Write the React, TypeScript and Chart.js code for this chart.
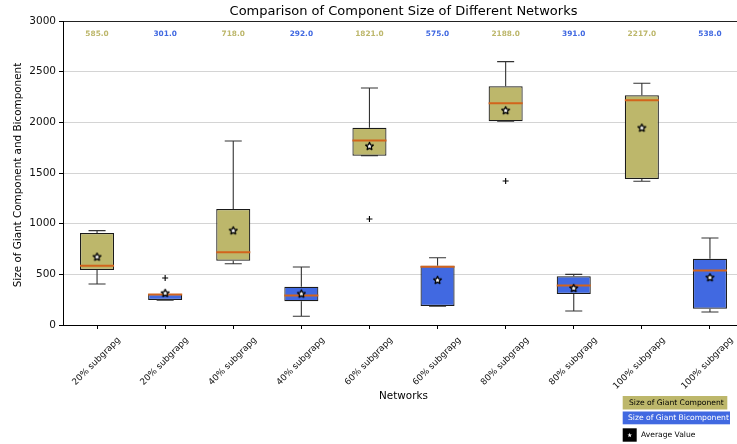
import React, { useEffect, useRef } from "react";
import { Chart, registerables } from "chart.js";

Chart.register(...registerables);

const categories = [
  "20% subgrapg", "20% subgrapg", "40% subgrapg", "40% subgrapg", "60% subgrapg",
  "60% subgrapg", "80% subgrapg", "80% subgrapg", "100% subgrapg", "100% subgrapg",
];
// 'giant' = Size of Giant Component, 'bi' = Size of Giant Bicomponent
const groups = ["giant", "bi", "giant", "bi", "giant", "bi", "giant", "bi", "giant", "bi"];
const q1 = [543, 247, 635, 234, 1671, 187, 2010, 306, 1441, 161];
const q3 = [908, 306, 1145, 378, 1947, 585, 2355, 480, 2267, 654];
const medians = [585, 301, 718, 292, 1821, 575, 2188, 391, 2217, 538];
const means = [671, 313, 930, 306, 1763, 441, 2115, 362, 1944, 467];
const whiskerLow = [405, 245, 605, 86, 1671, 185, 2010, 138, 1418, 128];
const whiskerHigh = [931, 301, 1816, 572, 2339, 664, 2599, 500, 2385, 859];
const outliers = [[], [464], [], [], [1046], [], [1421], [], [], []];
const yTicks = [0, 500, 1000, 1500, 2000, 2500, 3000];
const legendLabels = ["Size of Giant Component", "Size of Giant Bicomponent", "Average Value"];

const TITLE = "Comparison of Component Size of Different Networks";
const X_TITLE = "Networks";
const Y_TITLE = "Size of Giant Component and Bicomponent";

const COLORS: Record<string, string> = { giant: "#BDB76B", bi: "#4169E1" };
const FONT = '"DejaVu Sans", sans-serif';

function makeStar(size: number, outer: number, inner: number, fill: string, stroke: string | null, lw: number) {
  const c = document.createElement("canvas");
  c.width = size;
  c.height = size;
  const g = c.getContext("2d")!;
  drawStar(g, size / 2, size / 2, outer, inner, fill, stroke, lw);
  return c;
}

function drawStar(g: CanvasRenderingContext2D, cx: number, cy: number, outer: number, inner: number, fill: string, stroke: string | null, lw: number) {
  g.beginPath();
  for (let k = 0; k < 10; k++) {
    const r = k % 2 === 0 ? outer : inner;
    const a = -Math.PI / 2 + (k * Math.PI) / 5;
    const px = cx + r * Math.cos(a);
    const py = cy + r * Math.sin(a);
    if (k === 0) g.moveTo(px, py);
    else g.lineTo(px, py);
  }
  g.closePath();
  g.fillStyle = fill;
  g.fill();
  if (stroke) {
    g.strokeStyle = stroke;
    g.lineWidth = lw;
    g.lineJoin = "round";
    g.stroke();
  }
}

export default function App() {
  const ref = useRef<HTMLCanvasElement | null>(null);

  useEffect(() => {
    document.body.style.margin = "0";
    const canvas = ref.current!;
    const star = makeStar(11, 4, 1.9, "#ffffff", "#000000", 1.3);

    const gap = (i: number) => ({ x: i, y: NaN });
    const whiskerData: any[] = [];
    categories.forEach((_, i) => {
      whiskerData.push({ x: i, y: q3[i] }, { x: i, y: whiskerHigh[i] }, gap(i));
      whiskerData.push({ x: i, y: q1[i] }, { x: i, y: whiskerLow[i] }, gap(i));
      whiskerData.push({ x: i - 0.125, y: whiskerHigh[i] }, { x: i + 0.125, y: whiskerHigh[i] }, gap(i));
      whiskerData.push({ x: i - 0.125, y: whiskerLow[i] }, { x: i + 0.125, y: whiskerLow[i] }, gap(i));
    });
    const medianData: any[] = [];
    medians.forEach((m, i) => {
      medianData.push({ x: i - 0.25, y: m }, { x: i + 0.25, y: m }, gap(i));
    });
    const meanData = means.map((m, i) => ({ x: i, y: m }));
    const outlierData: any[] = [];
    outliers.forEach((arr, i) => arr.forEach((v) => outlierData.push({ x: i, y: v })));

    const overlay = {
      id: "overlay",
      afterDraw(chart: any) {
        const { ctx, chartArea, scales } = chart;
        const xl = scales.xl;
        const cx = (chartArea.left + chartArea.right) / 2;
        ctx.save();
        ctx.textAlign = "center";
        ctx.textBaseline = "middle";
        ctx.font = `bold 7.4px ${FONT}`;
        medians.forEach((m, i) => {
          ctx.fillStyle = COLORS[groups[i]];
          ctx.fillText(m.toFixed(1), xl.getPixelForValue(i), chartArea.top + 13);
        });
        ctx.fillStyle = "#000";
        ctx.font = `13px ${FONT}`;
        ctx.fillText(TITLE, cx, 11.5);
        ctx.font = `10.4px ${FONT}`;
        ctx.fillText(X_TITLE, cx, 396);
        ctx.save();
        ctx.translate(18, 175);
        ctx.rotate(-Math.PI / 2);
        ctx.fillText(Y_TITLE, 0, 0);
        ctx.restore();

        // legend
        ctx.textAlign = "left";
        ctx.font = `7.6px ${FONT}`;
        ctx.fillStyle = COLORS.giant;
        ctx.fillRect(622.7, 396, 104.6, 13.5);
        ctx.fillStyle = "#000";
        ctx.fillText(legendLabels[0], 629, 402.9);
        ctx.fillStyle = COLORS.bi;
        ctx.fillRect(622.7, 411.5, 107.3, 12.8);
        ctx.fillStyle = "#fff";
        ctx.fillText(legendLabels[1], 628, 418);
        ctx.fillStyle = "#000";
        ctx.fillRect(622.7, 428.3, 14, 13.4);
        drawStar(ctx, 629.7, 435.2, 2.4, 1.0, "#fff", null, 0);
        ctx.fillStyle = "#000";
        ctx.fillText(legendLabels[2], 641, 434.6);
        ctx.restore();
      },
    };

    const chart = new Chart(canvas, {
      type: "bar",
      data: {
        labels: categories,
        datasets: [
          {
            type: "bar",
            data: categories.map((_, i) => [q1[i], q3[i]]) as any,
            backgroundColor: groups.map((g) => COLORS[g]),
            borderColor: "#1a1a1a",
            borderWidth: 1.2,
            borderSkipped: false,
            grouped: false,
            barPercentage: 0.5,
            categoryPercentage: 1,
            xAxisID: "x",
            yAxisID: "y",
            order: 5,
          } as any,
          {
            type: "scatter",
            data: whiskerData,
            showLine: true,
            borderColor: "#333",
            borderWidth: 1.1,
            pointRadius: 0,
            spanGaps: false,
            xAxisID: "xl",
            yAxisID: "y",
            order: 4,
          } as any,
          {
            type: "scatter",
            data: medianData,
            showLine: true,
            borderColor: "#d2641c",
            borderWidth: 2,
            pointRadius: 0,
            spanGaps: false,
            xAxisID: "xl",
            yAxisID: "y",
            order: 3,
          } as any,
          {
            type: "scatter",
            data: outlierData,
            pointStyle: "cross",
            pointRadius: 3,
            borderColor: "#000",
            borderWidth: 1.1,
            xAxisID: "xl",
            yAxisID: "y",
            order: 2,
          } as any,
          {
            type: "scatter",
            data: meanData,
            pointStyle: star,
            pointRadius: 5,
            xAxisID: "xl",
            yAxisID: "y",
            order: 1,
          } as any,
        ],
      },
      options: {
        responsive: false,
        animation: false,
        events: [],
        layout: { padding: { top: 21, right: 16, left: 0, bottom: 0 } },
        plugins: { legend: { display: false }, title: { display: false }, tooltip: { enabled: false } },
        scales: {
          x: {
            type: "category",
            offset: true,
            grid: { offset: false, drawOnChartArea: false, drawTicks: true, tickLength: 4, tickColor: "#000" },
            border: { color: "#000", width: 1 },
            ticks: {
              autoSkip: false,
              minRotation: 45,
              maxRotation: 45,
              labelOffset: 22,
              padding: 6,
              color: "#111",
              font: { family: FONT, size: 8.8 },
            },
            afterFit: (s: any) => {
              s.height = 119;
            },
          },
          xl: { type: "linear", display: false, offset: false, min: -0.5, max: 9.5, grid: { offset: false } },
          y: {
            type: "linear",
            min: 0,
            max: 3000,
            afterBuildTicks: (s: any) => {
              s.ticks = yTicks.map((v) => ({ value: v }));
            },
            ticks: {
              padding: 3,
              color: "#111",
              font: { family: FONT, size: 10.5 },
              callback: (v: any) => String(v),
            },
            grid: {
              color: (c: any) =>
                c.tick && c.tick.value === 3000 ? "#222" : c.tick && c.tick.value === 0 ? "rgba(0,0,0,0)" : "#d4d4d4",
              lineWidth: 1,
              tickLength: 4,
              tickColor: "#000",
            },
            border: { color: "#000", width: 1 },
            afterFit: (s: any) => {
              s.width = 63;
            },
          },
        },
      } as any,
      plugins: [overlay],
    });
    return () => chart.destroy();
  }, []);

  return (
    <div style={{ position: "relative", width: 737, height: 444, overflow: "hidden", background: "#fff" }}>
      <canvas ref={ref} width={760} height={444} style={{ width: 760, height: 444, display: "block" }} />
    </div>
  );
}
